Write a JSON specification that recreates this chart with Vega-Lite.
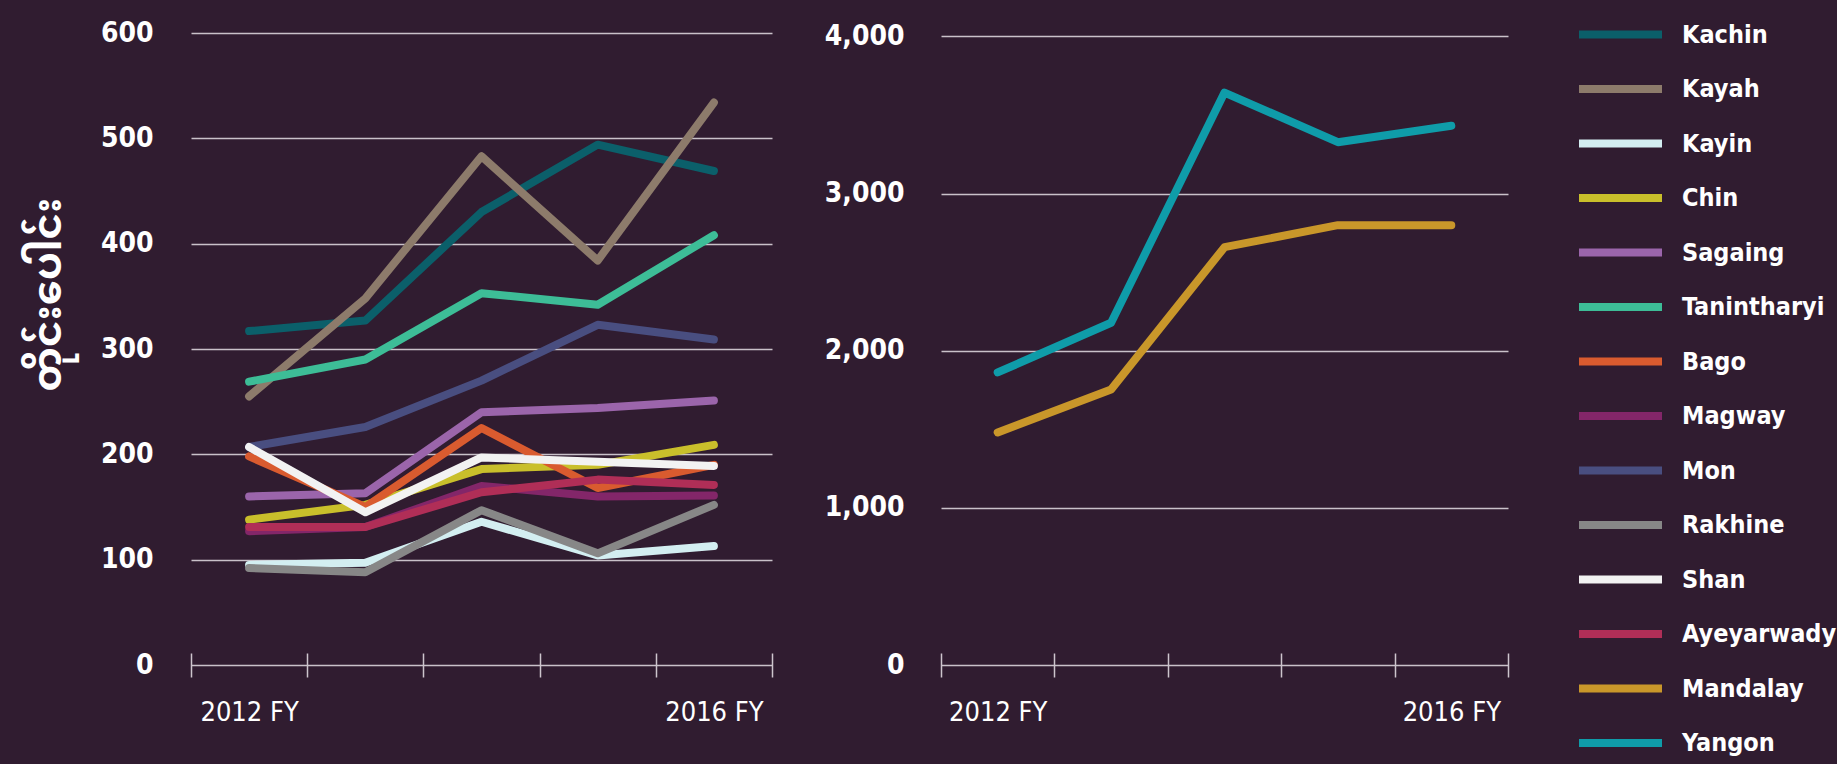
{
  "$schema": "https://vega.github.io/schema/vega-lite/v6.json",
  "background": "#301c30",
  "padding": {"left": 28, "top": 18, "right": 0, "bottom": 5},
  "config": {
    "view": {"stroke": null},
    "font": "Liberation Sans Narrow, DejaVu Sans Condensed, Roboto, sans-serif",
    "concat": {"spacing": 51},
    "axis": {"labelColor": "#ffffff", "titleColor": "#ffffff"}
  },
  "data": {
    "values": [
      {"region": "Kachin", "year": "2012 FY", "value": 317},
      {"region": "Kachin", "year": "2013 FY", "value": 327},
      {"region": "Kachin", "year": "2014 FY", "value": 430},
      {"region": "Kachin", "year": "2015 FY", "value": 494},
      {"region": "Kachin", "year": "2016 FY", "value": 469},
      {"region": "Kayah", "year": "2012 FY", "value": 255},
      {"region": "Kayah", "year": "2013 FY", "value": 348},
      {"region": "Kayah", "year": "2014 FY", "value": 483},
      {"region": "Kayah", "year": "2015 FY", "value": 384},
      {"region": "Kayah", "year": "2016 FY", "value": 534},
      {"region": "Kayin", "year": "2012 FY", "value": 95},
      {"region": "Kayin", "year": "2013 FY", "value": 97},
      {"region": "Kayin", "year": "2014 FY", "value": 136},
      {"region": "Kayin", "year": "2015 FY", "value": 104},
      {"region": "Kayin", "year": "2016 FY", "value": 113},
      {"region": "Chin", "year": "2012 FY", "value": 138},
      {"region": "Chin", "year": "2013 FY", "value": 152},
      {"region": "Chin", "year": "2014 FY", "value": 186},
      {"region": "Chin", "year": "2015 FY", "value": 190},
      {"region": "Chin", "year": "2016 FY", "value": 209},
      {"region": "Sagaing", "year": "2012 FY", "value": 160},
      {"region": "Sagaing", "year": "2013 FY", "value": 163},
      {"region": "Sagaing", "year": "2014 FY", "value": 240},
      {"region": "Sagaing", "year": "2015 FY", "value": 244},
      {"region": "Sagaing", "year": "2016 FY", "value": 251},
      {"region": "Tanintharyi", "year": "2012 FY", "value": 269},
      {"region": "Tanintharyi", "year": "2013 FY", "value": 290},
      {"region": "Tanintharyi", "year": "2014 FY", "value": 353},
      {"region": "Tanintharyi", "year": "2015 FY", "value": 342},
      {"region": "Tanintharyi", "year": "2016 FY", "value": 408},
      {"region": "Bago", "year": "2012 FY", "value": 198},
      {"region": "Bago", "year": "2013 FY", "value": 150},
      {"region": "Bago", "year": "2014 FY", "value": 225},
      {"region": "Bago", "year": "2015 FY", "value": 168},
      {"region": "Bago", "year": "2016 FY", "value": 190},
      {"region": "Magway", "year": "2012 FY", "value": 127},
      {"region": "Magway", "year": "2013 FY", "value": 131},
      {"region": "Magway", "year": "2014 FY", "value": 170},
      {"region": "Magway", "year": "2015 FY", "value": 160},
      {"region": "Magway", "year": "2016 FY", "value": 161},
      {"region": "Mon", "year": "2012 FY", "value": 207},
      {"region": "Mon", "year": "2013 FY", "value": 226},
      {"region": "Mon", "year": "2014 FY", "value": 270},
      {"region": "Mon", "year": "2015 FY", "value": 323},
      {"region": "Mon", "year": "2016 FY", "value": 309},
      {"region": "Rakhine", "year": "2012 FY", "value": 92},
      {"region": "Rakhine", "year": "2013 FY", "value": 88},
      {"region": "Rakhine", "year": "2014 FY", "value": 147},
      {"region": "Rakhine", "year": "2015 FY", "value": 106},
      {"region": "Rakhine", "year": "2016 FY", "value": 152},
      {"region": "Shan", "year": "2012 FY", "value": 207},
      {"region": "Shan", "year": "2013 FY", "value": 145},
      {"region": "Shan", "year": "2014 FY", "value": 197},
      {"region": "Shan", "year": "2015 FY", "value": 193},
      {"region": "Shan", "year": "2016 FY", "value": 189},
      {"region": "Ayeyarwady", "year": "2012 FY", "value": 131},
      {"region": "Ayeyarwady", "year": "2013 FY", "value": 131},
      {"region": "Ayeyarwady", "year": "2014 FY", "value": 164},
      {"region": "Ayeyarwady", "year": "2015 FY", "value": 176},
      {"region": "Ayeyarwady", "year": "2016 FY", "value": 171},
      {"region": "Mandalay", "year": "2012 FY", "value": 1480},
      {"region": "Mandalay", "year": "2013 FY", "value": 1753},
      {"region": "Mandalay", "year": "2014 FY", "value": 2659},
      {"region": "Mandalay", "year": "2015 FY", "value": 2799},
      {"region": "Mandalay", "year": "2016 FY", "value": 2799},
      {"region": "Yangon", "year": "2012 FY", "value": 1862},
      {"region": "Yangon", "year": "2013 FY", "value": 2178},
      {"region": "Yangon", "year": "2014 FY", "value": 3643},
      {"region": "Yangon", "year": "2015 FY", "value": 3327},
      {"region": "Yangon", "year": "2016 FY", "value": 3432}
    ]
  },
  "hconcat": [
    {
      "width": 581,
      "height": 632,
      "transform": [{"filter": "datum.region != 'Mandalay' && datum.region != 'Yangon'"}],
      "mark": {"type": "line", "strokeWidth": 8, "strokeCap": "round", "strokeJoin": "round"},
      "encoding": {
        "x": {
          "field": "year", "type": "ordinal", "bandPosition": 0.5,
          "sort": ["2012 FY", "2013 FY", "2014 FY", "2015 FY", "2016 FY"],
          "scale": {"type": "band", "paddingInner": 0, "paddingOuter": 0},
          "axis": {
            "title": null, "domain": false, "grid": false, "labelAngle": 0,
            "tickBand": "extent", "tickSize": 24, "offset": -12, "tickColor": "#cdc5cd", "tickWidth": 1.5,
            "labelPadding": 22, "labelFontSize": 27, "labelColor": "#ffffff",
            "labelExpr": "datum.value == '2012 FY' || datum.value == '2016 FY' ? datum.value : ''"
          }
        },
        "y": {
          "field": "value", "type": "quantitative",
          "scale": {"domain": [0, 600], "nice": false},
          "axis": {
            "values": [0, 100, 200, 300, 400, 500, 600], "format": ",d",
            "domain": false, "ticks": false, "grid": true, "gridColor": "#c9c1c9", "gridWidth": 1.5,
            "labelPadding": 38, "labelFontSize": 28, "labelFontWeight": "bold",
            "title": "တိုင်းပေါင်း", "titleFontSize": 40, "titleFontWeight": "bold",
            "titleFont": "Noto Sans Myanmar, Padauk, Myanmar Text, Noto Sans, sans-serif",
            "titlePadding": 32, "titleY": 261
          }
        },
        "color": {
          "field": "region", "type": "nominal",
          "scale": {
            "domain": ["Kachin", "Kayah", "Kayin", "Chin", "Sagaing", "Tanintharyi", "Bago", "Magway", "Mon", "Rakhine", "Shan", "Ayeyarwady", "Mandalay", "Yangon"],
            "range": ["#0b5f6a", "#8d7b6b", "#d3eef1", "#c9bf2b", "#9b65ab", "#3dbd97", "#d95b2f", "#832669", "#494e80", "#878787", "#f2f2f2", "#b02e57", "#c9972a", "#0f9ca9"]
          },
          "legend": {
            "title": null, "orient": "none", "legendX": 1413, "legendY": -15,
            "symbolType": "M-3.32,0H3.32", "symbolSize": 625, "symbolStrokeWidth": 8,
            "labelFontSize": 25, "labelFontWeight": "bold", "labelColor": "#ffffff",
            "labelOffset": 45, "rowPadding": 21.5, "labelLimit": 300
          }
        }
      }
    },
    {
      "width": 567,
      "height": 632,
      "transform": [{"filter": "datum.region == 'Mandalay' || datum.region == 'Yangon'"}],
      "mark": {"type": "line", "strokeWidth": 8, "strokeCap": "round", "strokeJoin": "round"},
      "encoding": {
        "x": {
          "field": "year", "type": "ordinal", "bandPosition": 0.5,
          "sort": ["2012 FY", "2013 FY", "2014 FY", "2015 FY", "2016 FY"],
          "scale": {"type": "band", "paddingInner": 0, "paddingOuter": 0},
          "axis": {
            "title": null, "domain": false, "grid": false, "labelAngle": 0,
            "tickBand": "extent", "tickSize": 24, "offset": -12, "tickColor": "#cdc5cd", "tickWidth": 1.5,
            "labelPadding": 22, "labelFontSize": 27, "labelColor": "#ffffff",
            "labelExpr": "datum.value == '2012 FY' || datum.value == '2016 FY' ? datum.value : ''"
          }
        },
        "y": {
          "field": "value", "type": "quantitative",
          "scale": {"domain": [0, 4022], "nice": false},
          "axis": {
            "values": [0, 1000, 2000, 3000, 4000], "format": ",d",
            "domain": false, "ticks": false, "grid": true, "gridColor": "#c9c1c9", "gridWidth": 1.5,
            "labelPadding": 37, "labelFontSize": 28, "labelFontWeight": "bold",
            "title": null
          }
        },
        "color": {
          "field": "region", "type": "nominal",
          "scale": {
            "domain": ["Kachin", "Kayah", "Kayin", "Chin", "Sagaing", "Tanintharyi", "Bago", "Magway", "Mon", "Rakhine", "Shan", "Ayeyarwady", "Mandalay", "Yangon"],
            "range": ["#0b5f6a", "#8d7b6b", "#d3eef1", "#c9bf2b", "#9b65ab", "#3dbd97", "#d95b2f", "#832669", "#494e80", "#878787", "#f2f2f2", "#b02e57", "#c9972a", "#0f9ca9"]
          },
          "legend": {
            "title": null, "orient": "none", "legendX": 1413, "legendY": -15,
            "symbolType": "M-3.32,0H3.32", "symbolSize": 625, "symbolStrokeWidth": 8,
            "labelFontSize": 25, "labelFontWeight": "bold", "labelColor": "#ffffff",
            "labelOffset": 45, "rowPadding": 21.5, "labelLimit": 300
          }
        }
      }
    }
  ],
  "resolve": {"scale": {"color": "shared"}}
}
